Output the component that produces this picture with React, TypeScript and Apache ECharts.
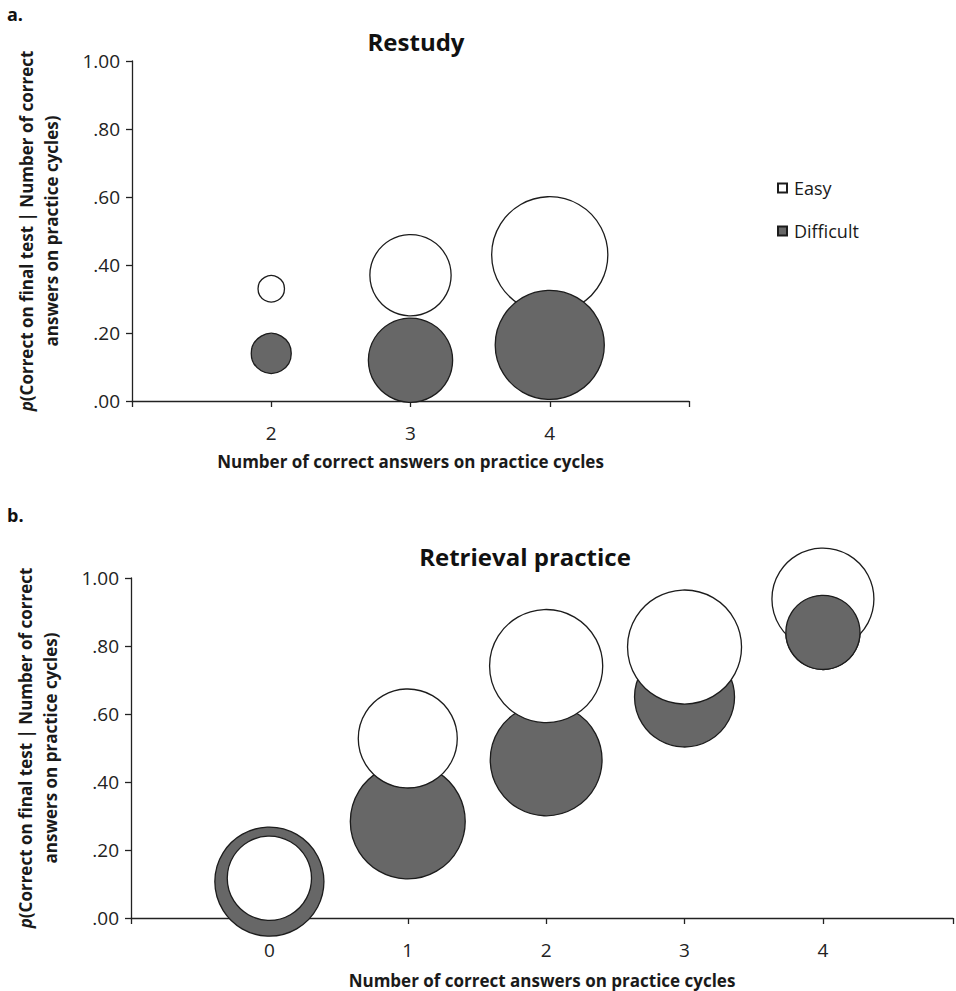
import React, { useEffect, useRef } from "react";
import * as echarts from "echarts";

// ---- Data ----
const seriesNames = ["Easy", "Difficult"];

// Panel a: Restudy
const restudyX = [2, 3, 4];
const restudyEasyY = [0.33, 0.37, 0.43];
const restudyEasySize = [7, 66, 135];
const restudyDifficultY = [0.14, 0.12, 0.165];
const restudyDifficultSize = [16, 71, 119];

// Panel b: Retrieval practice
const retrievalX = [0, 1, 2, 3, 4];
const retrievalEasyY = [0.117, 0.528, 0.741, 0.797, 0.938];
const retrievalEasySize = [71, 98, 128, 130, 104];
const retrievalDifficultY = [0.107, 0.284, 0.465, 0.65, 0.84];
const retrievalDifficultSize = [119, 132, 125, 100, 55];
const retrievalDifficultOnTop = [4];

const yTicks = [0, 0.2, 0.4, 0.6, 0.8, 1.0];
const restudyLabels = [2, 3, 4];
const retrievalLabels = [0, 1, 2, 3, 4];

const panelTitles = ["Restudy", "Retrieval practice"];
const panelLetters = ["a.", "b."];
const xAxisTitle = "Number of correct answers on practice cycles";
const yAxisTitleLine1 = "(Correct on final test | Number of correct";
const yAxisTitleLine2 = "answers on practice cycles)";

const FONT = "'Open Sans', sans-serif";
const DARK_FILL = "#676767";
const EDGE = "#1c1c1c";

function zip(xs: number[], ys: number[], ss: number[]) {
  return xs.map((x, i) => [x, ys[i], ss[i]]);
}

const bubbleSize = (v: number[]) => Math.sqrt(v[2]) * 10;

function yAxisFor(gridIndex: number) {
  return {
    type: "value",
    gridIndex,
    min: 0,
    max: 1,
    interval: 0.2,
    name: `{i|p}{b|${yAxisTitleLine1}}\n{b|${yAxisTitleLine2}}`,
    nameLocation: "middle",
    nameGap: 68,
    nameTextStyle: {
      rich: {
        i: { fontFamily: FONT, fontSize: 17, fontWeight: "bold", fontStyle: "italic", color: "#1a1a1a", lineHeight: 25 },
        b: { fontFamily: FONT, fontSize: 17, fontWeight: "bold", color: "#1a1a1a", lineHeight: 25 },
      },
    },
    axisLine: { show: true, onZero: false, lineStyle: { color: "#222", width: 1.3 } },
    axisTick: { show: true, inside: false, length: 6, lineStyle: { color: "#222", width: 1.3 } },
    splitLine: { show: false },
    axisLabel: {
      margin: 12,
      fontFamily: FONT,
      fontSize: 19,
      color: "#222",
      formatter: (v: number) => {
        const t = yTicks.find((k) => Math.abs(k - v) < 1e-6);
        if (t === undefined) return "";
        return t.toFixed(2).replace(/^0/, "");
      },
    },
  };
}

function xAxisFor(gridIndex: number, min: number, max: number, labels: number[], nameGap: number) {
  return {
    type: "value",
    gridIndex,
    min,
    max,
    interval: 1,
    name: xAxisTitle,
    nameLocation: "middle",
    nameGap,
    nameTextStyle: { fontFamily: FONT, fontSize: 17, fontWeight: "bold", color: "#1a1a1a" },
    axisLine: { show: true, onZero: false, lineStyle: { color: "#222", width: 1.3 } },
    axisTick: { show: true, inside: false, length: 6, lineStyle: { color: "#222", width: 1.3 } },
    splitLine: { show: false },
    axisLabel: {
      margin: 22,
      fontFamily: FONT,
      fontSize: 19,
      color: "#222",
      showMinLabel: true,
      showMaxLabel: true,
      formatter: (v: number) => (labels.some((l) => Math.abs(l - v) < 1e-6) ? String(Math.round(v)) : ""),
    },
  };
}

export default function App() {
  const ref = useRef<HTMLDivElement>(null);

  useEffect(() => {
    if (!ref.current) return;
    const chart = echarts.init(ref.current, undefined, { renderer: "svg" });

    const easyStyle = { color: "#ffffff", borderColor: EDGE, borderWidth: 1.3, opacity: 1 };
    const diffStyle = { color: DARK_FILL, borderColor: EDGE, borderWidth: 1.3, opacity: 1 };

    const retrievalDiffData = zip(retrievalX, retrievalDifficultY, retrievalDifficultSize);

    const option: any = {
      animation: false,
      backgroundColor: "#ffffff",
      textStyle: { fontFamily: FONT },
      grid: [
        { left: 132, top: 61, width: 557, height: 340 },
        { left: 131, top: 578, right: 0, height: 340 },
      ],
      xAxis: [
        xAxisFor(0, 1, 5, restudyLabels, 52),
        xAxisFor(1, -1, 4.94, retrievalLabels, 54),
      ],
      yAxis: [yAxisFor(0), yAxisFor(1)],
      legend: {
        show: true,
        data: seriesNames,
        orient: "vertical",
        left: 772,
        top: 174,
        icon: "rect",
        itemWidth: 9,
        itemHeight: 9,
        itemGap: 25,
        textStyle: { fontFamily: FONT, fontSize: 18, color: "#1a1a1a", padding: [0, 0, 0, 2] },
        selectedMode: false,
      },
      graphic: [
        { type: "text", left: 7, top: 5, style: { text: panelLetters[0], font: `bold 18px ${FONT}`, fill: "#111" } },
        { type: "text", left: 7, top: 506, style: { text: panelLetters[1], font: `bold 18px ${FONT}`, fill: "#111" } },
        {
          type: "text",
          x: 416,
          y: 41,
          style: { text: panelTitles[0], font: `bold 24px ${FONT}`, fill: "#111", textAlign: "center", textVerticalAlign: "middle" },
        },
        {
          type: "text",
          x: 525,
          y: 556,
          style: { text: panelTitles[1], font: `bold 24px ${FONT}`, fill: "#111", textAlign: "center", textVerticalAlign: "middle" },
        },
      ],
      series: [
        {
          name: seriesNames[0],
          type: "scatter",
          xAxisIndex: 0,
          yAxisIndex: 0,
          z: 2,
          symbol: "circle",
          symbolSize: bubbleSize,
          itemStyle: easyStyle,
          emphasis: { disabled: true },
          data: zip(restudyX, restudyEasyY, restudyEasySize),
        },
        {
          name: seriesNames[1],
          type: "scatter",
          xAxisIndex: 0,
          yAxisIndex: 0,
          z: 3,
          symbol: "circle",
          symbolSize: bubbleSize,
          itemStyle: diffStyle,
          emphasis: { disabled: true },
          data: zip(restudyX, restudyDifficultY, restudyDifficultSize),
        },
        {
          name: seriesNames[1],
          type: "scatter",
          xAxisIndex: 1,
          yAxisIndex: 1,
          z: 2,
          symbol: "circle",
          symbolSize: bubbleSize,
          itemStyle: diffStyle,
          emphasis: { disabled: true },
          data: retrievalDiffData,
        },
        {
          name: seriesNames[0],
          type: "scatter",
          xAxisIndex: 1,
          yAxisIndex: 1,
          z: 3,
          symbol: "circle",
          symbolSize: bubbleSize,
          itemStyle: easyStyle,
          emphasis: { disabled: true },
          data: zip(retrievalX, retrievalEasyY, retrievalEasySize),
        },
        {
          name: seriesNames[1],
          type: "scatter",
          xAxisIndex: 1,
          yAxisIndex: 1,
          z: 4,
          symbol: "circle",
          symbolSize: bubbleSize,
          itemStyle: diffStyle,
          emphasis: { disabled: true },
          data: retrievalDiffData.filter((d) => retrievalDifficultOnTop.includes(d[0])),
        },
      ],
    };

    chart.setOption(option);
    return () => chart.dispose();
  }, []);

  return (
    <div
      ref={ref}
      style={{ position: "absolute", left: 0, top: 0, width: 956, height: 991, background: "#fff" }}
    />
  );
}
